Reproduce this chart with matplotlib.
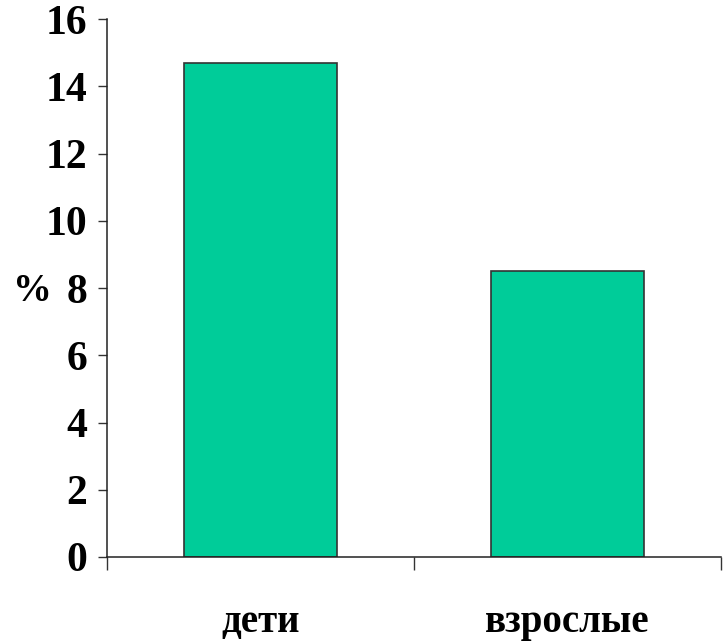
import matplotlib.pyplot as plt
from matplotlib.ticker import FixedLocator

# Values
groups = ["дети", "взрослые"]
percent = [14.7, 8.5]
y_ticks = [0, 2, 4, 6, 8, 10, 12, 14, 16]

plt.rcParams['font.family'] = ['Liberation Serif', 'DejaVu Serif']
plt.rcParams['font.weight'] = 'bold'

fig = plt.figure(figsize=(7.27, 6.42), dpi=100)
ax = fig.add_axes([0.1472, 0.1324, 0.8445, 0.838])

x = list(range(len(groups)))
ax.bar(x, percent, width=0.5, color="#00CC99", edgecolor="#333333", linewidth=1.2)

ax.set_xlim(-0.5, len(groups) - 0.5)
ax.set_ylim(0, 16)
ax.set_yticks(y_ticks)
ax.set_yticklabels([str(v) for v in y_ticks], fontsize=30, fontweight='bold')

# category labels without ticks, boundary ticks pointing down
ax.set_xticks(x)
ax.set_xticklabels(groups, fontsize=28, fontweight='bold')
ax.xaxis.set_minor_locator(FixedLocator([-0.5, 0.5, 1.5]))
ax.tick_params(axis='x', which='major', length=0, pad=34)
ax.tick_params(axis='x', which='minor', direction='out', length=9.5, width=1.0, color='#333333')
ax.tick_params(axis='y', direction='out', length=6.5, width=1.0, color='#333333', pad=8)

for side in ['top', 'right']:
    ax.spines[side].set_visible(False)
for side in ['left', 'bottom']:
    ax.spines[side].set_linewidth(1.1)
    ax.spines[side].set_color('#222222')

ax.set_ylabel('%', rotation=0, fontsize=28, fontweight='bold', va='center', ha='center')
ax.yaxis.set_label_coords(-0.122, 0.4926)

fig.savefig("out.png", dpi=100)
